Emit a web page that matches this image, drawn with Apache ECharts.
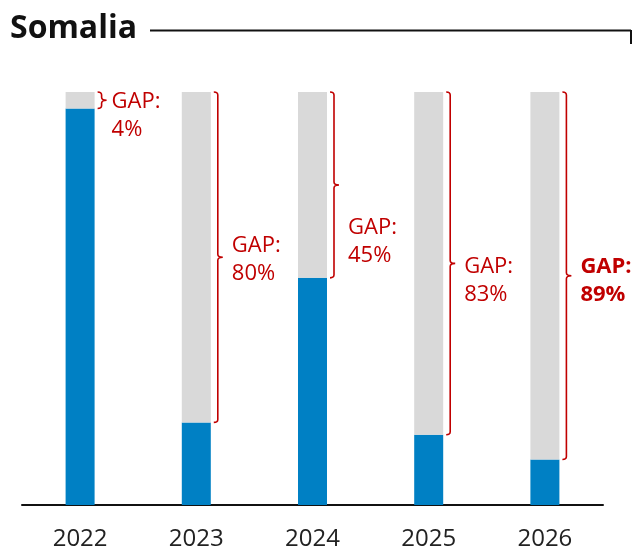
<!DOCTYPE html>
<html>
<head>
<meta charset="utf-8">
<script src="https://cdn.jsdelivr.net/npm/echarts@6/dist/echarts.min.js"></script>
<style>
html,body{margin:0;padding:0;background:#fff;}
#chart{width:632px;height:551px;}
</style>
</head>
<body>
<div id="chart"></div>
<script>
const years = ['2022', '2023', '2024', '2025', '2026'];
const funded = [96, 20, 55, 17, 11];
const gap = [4, 80, 45, 83, 89];
// vertical centre of each GAP label, in axis value units
const labelCenter = [94.3, 59.5, 63.8, 54.3, 54.3];

const BLUE = '#0080C4';
const GRAY = '#D9D9D9';
const RED = '#C00000';
const FONT = '"Open Sans", "Noto Sans", sans-serif';
const BAR_W = 29;

const chart = echarts.init(document.getElementById('chart'));

chart.setOption({
  animation: false,
  backgroundColor: '#fff',
  grid: { left: 22, right: 29, top: 92, bottom: 45, containLabel: false },
  xAxis: {
    type: 'category',
    data: years,
    axisLine: { lineStyle: { color: '#111', width: 2 } },
    axisTick: { show: false },
    axisLabel: { color: '#222', fontSize: 24, fontFamily: FONT, margin: 22 }
  },
  yAxis: { type: 'value', min: 0, max: 100, show: false, splitLine: { show: false } },
  graphic: [
    { type: 'text', left: 10, top: 13, style: { text: 'Somalia', fontSize: 32, fontWeight: 'bold', fontFamily: FONT, fill: '#111' } },
    { type: 'line', shape: { x1: 150, y1: 30.5, x2: 631, y2: 30.5 }, style: { stroke: '#111', lineWidth: 2 } },
    { type: 'line', shape: { x1: 631, y1: 30, x2: 631, y2: 44 }, style: { stroke: '#111', lineWidth: 2 } }
  ],
  series: [
    {
      type: 'bar', stack: 'a', data: funded, barWidth: BAR_W,
      itemStyle: { color: BLUE }, silent: true
    },
    {
      type: 'bar', stack: 'a', data: gap, barWidth: BAR_W,
      itemStyle: { color: GRAY }, silent: true
    },
    {
      type: 'custom',
      silent: true,
      clip: false,
      data: years.map((y, i) => [i, funded[i], funded[i] + gap[i], labelCenter[i], gap[i]]),
      renderItem: function (params, api) {
        const i = api.value(0);
        const top = api.coord([i, api.value(2)]);
        const bot = api.coord([i, api.value(1)]);
        const lab = api.coord([i, api.value(3)]);
        const right = top[0] + BAR_W / 2;
        const x0 = right + 3, x1 = right + 7, x2 = right + 12;
        const yt = top[1], yb = bot[1], ym = (yt + yb) / 2, r = 3;
        const path = `M${x0},${yt} Q${x1},${yt} ${x1},${yt + r} L${x1},${ym - r} Q${x1},${ym} ${x2},${ym} Q${x1},${ym} ${x1},${ym + r} L${x1},${yb - r} Q${x1},${yb} ${x0},${yb}`;
        return {
          type: 'group',
          children: [
            { type: 'path', shape: { pathData: path }, style: { stroke: RED, lineWidth: 1.6, fill: null } },
            {
              type: 'text',
              style: {
                text: 'GAP:\n' + api.value(4) + '%',
                x: right + (i === 0 ? 17 : 21), y: lab[1],
                verticalAlign: 'middle', align: 'left',
                fontSize: 22, lineHeight: 28, fontFamily: FONT,
                fontWeight: i === 4 ? 'bold' : 'normal',
                fill: RED
              }
            }
          ]
        };
      }
    }
  ]
});
</script>
</body>
</html>
